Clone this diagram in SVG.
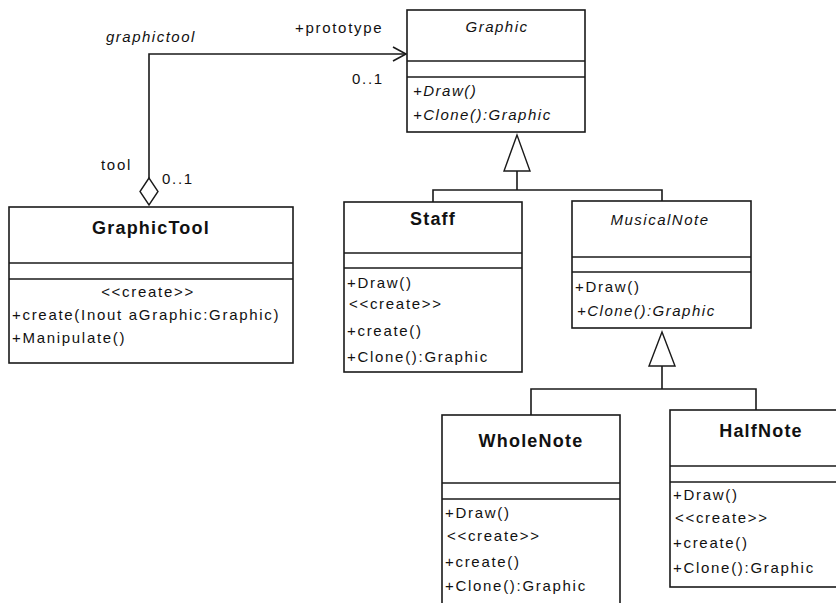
<svg xmlns="http://www.w3.org/2000/svg" width="836" height="603" viewBox="0 0 836 603">
  <style>
    .box { fill: #ffffff; stroke: #1a1a1a; stroke-width: 1.6; }
    .sep { stroke: #1a1a1a; stroke-width: 1.6; fill: none; }
    .edge { stroke: #1a1a1a; stroke-width: 1.6; fill: none; }
    .head { stroke: #1a1a1a; stroke-width: 1.4; fill: #ffffff; }
    text { font-family: "Liberation Sans", Arial, sans-serif; fill: #111111; }
    .t { font-size: 15px; letter-spacing: 1.7px; }
    .it { font-size: 15px; letter-spacing: 1.5px; font-style: italic; }
    .title { font-size: 18px; font-weight: bold; letter-spacing: 1.2px; text-anchor: middle; }
    .ititle { font-size: 15px; font-style: italic; letter-spacing: 1.5px; text-anchor: middle; }
    .mid { text-anchor: middle; }
  </style>

  <!-- relationships -->
  <g id="connectors">
    <!-- aggregation GraphicTool -> Graphic -->
    <path class="edge" d="M149,178 V54 H406"/>
    <path class="edge" d="M393,47 L406,54 L393,61"/>
    <polygon class="head" points="149,178 140,191.5 149,205 158,191.5"/>
    <text class="it" x="106" y="42">graphictool</text>
    <text class="t" x="295" y="33">+prototype</text>
    <text class="t" x="352" y="84">0..1</text>
    <text class="t" x="101" y="170">tool</text>
    <text class="t" x="162" y="184">0..1</text>

    <!-- generalization: Staff, MusicalNote -> Graphic -->
    <polygon class="head" points="517,135 504,171 530,171"/>
    <path class="edge" d="M517,171 V190 M433,202 V190 H662 V201"/>

    <!-- generalization: WholeNote, HalfNote -> MusicalNote -->
    <polygon class="head" points="662,332 649,366 675,366"/>
    <path class="edge" d="M662,366 V389 M531,415 V389 H756 V410"/>
  </g>

  <g id="Graphic">
    <rect class="box" x="407" y="10" width="178" height="122"/>
    <line class="sep" x1="407" y1="61" x2="585" y2="61"/>
    <line class="sep" x1="407" y1="77" x2="585" y2="77"/>
    <text class="ititle" x="497" y="32">Graphic</text>
    <text class="it" x="413" y="96">+Draw()</text>
    <text class="it" x="413" y="120">+Clone():Graphic</text>
  </g>

  <g id="GraphicTool">
    <rect class="box" x="9" y="207" width="284" height="156"/>
    <line class="sep" x1="9" y1="263" x2="293" y2="263"/>
    <line class="sep" x1="9" y1="279" x2="293" y2="279"/>
    <text class="title" x="151" y="234">GraphicTool</text>
    <text class="t mid" x="148" y="297">&lt;&lt;create&gt;&gt;</text>
    <text class="t" x="12" y="320">+create(Inout aGraphic:Graphic)</text>
    <text class="t" x="12" y="343">+Manipulate()</text>
  </g>

  <g id="Staff">
    <rect class="box" x="344" y="202" width="178" height="170"/>
    <line class="sep" x1="344" y1="253" x2="522" y2="253"/>
    <line class="sep" x1="344" y1="268" x2="522" y2="268"/>
    <text class="title" x="433" y="225">Staff</text>
    <text class="t" x="347" y="288">+Draw()</text>
    <text class="t" x="349" y="309">&lt;&lt;create&gt;&gt;</text>
    <text class="t" x="347" y="336">+create()</text>
    <text class="t" x="347" y="362">+Clone():Graphic</text>
  </g>

  <g id="MusicalNote">
    <rect class="box" x="572" y="201" width="179" height="127"/>
    <line class="sep" x1="572" y1="257" x2="751" y2="257"/>
    <line class="sep" x1="572" y1="272" x2="751" y2="272"/>
    <text class="ititle" x="660" y="225">MusicalNote</text>
    <text class="t" x="575" y="292">+Draw()</text>
    <text class="it" x="577" y="316">+Clone():Graphic</text>
  </g>

  <g id="WholeNote">
    <rect class="box" x="442" y="415" width="178" height="200"/>
    <line class="sep" x1="442" y1="483" x2="620" y2="483"/>
    <line class="sep" x1="442" y1="499" x2="620" y2="499"/>
    <text class="title" x="531" y="447">WholeNote</text>
    <text class="t" x="445" y="518">+Draw()</text>
    <text class="t" x="447" y="541">&lt;&lt;create&gt;&gt;</text>
    <text class="t" x="445" y="567">+create()</text>
    <text class="t" x="445" y="591">+Clone():Graphic</text>
  </g>

  <g id="HalfNote">
    <rect class="box" x="670" y="410" width="180" height="177"/>
    <line class="sep" x1="670" y1="466" x2="850" y2="466"/>
    <line class="sep" x1="670" y1="482" x2="850" y2="482"/>
    <text class="title" x="761" y="437">HalfNote</text>
    <text class="t" x="673" y="500">+Draw()</text>
    <text class="t" x="675" y="523">&lt;&lt;create&gt;&gt;</text>
    <text class="t" x="673" y="548">+create()</text>
    <text class="t" x="673" y="573">+Clone():Graphic</text>
  </g>
</svg>
